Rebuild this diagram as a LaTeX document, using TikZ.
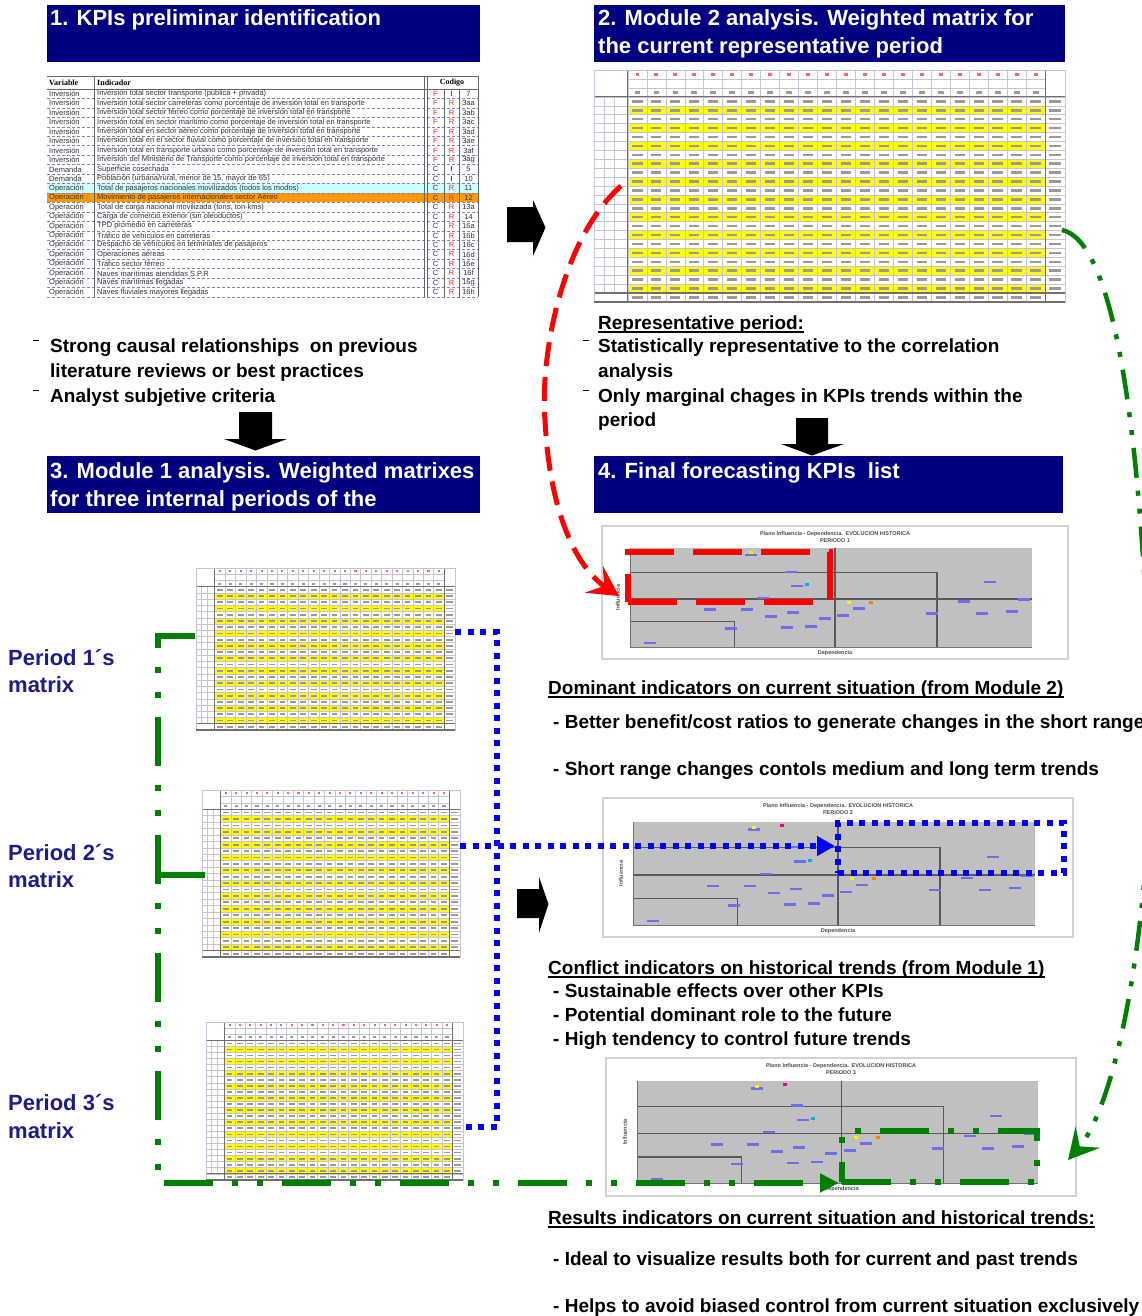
\documentclass[tikz,border=0pt]{standalone}
\usepackage{fontspec}
\setmainfont{Liberation Sans}
\newfontfamily\serifhead{Liberation Serif}
\usetikzlibrary{arrows.meta,fit}
\definecolor{navyc}{HTML}{000080}
\definecolor{perblue}{HTML}{1C1C8C}
\definecolor{cellyellow}{HTML}{FFFF00}
\definecolor{gridc}{HTML}{C4C4D4}
\definecolor{tborder}{HTML}{707070}
\definecolor{cellink}{HTML}{9A9A9A}
\definecolor{plotgray}{HTML}{C0C0C0}
\definecolor{framegray}{HTML}{D2D2D2}
\definecolor{lineg}{HTML}{008000}
\definecolor{liner}{HTML}{FF0000}
\definecolor{lineb}{HTML}{0000FF}
\definecolor{kcyan}{HTML}{CCFFFF}
\definecolor{korange}{HTML}{FF9900}
\definecolor{kred}{HTML}{FF2020}
\definecolor{kblue}{HTML}{2828C8}
\definecolor{kline}{HTML}{8080C8}
\definecolor{ptblue}{HTML}{3030E0}
\newcommand\fsz[1]{\fontsize{#1}{#1}\selectfont}

% weighted matrix screenshot: name, x0, y0, x1, y1
\newcommand\mtable[5]{%
  \node[fit={(#2,#3) (#4,#5)}, inner sep=0pt, outer sep=0pt, fill=white] (#1) {};
  \pgfmathsetmacro\mtW{#4-#2}%
  \pgfmathsetmacro\mtH{#5-#3}%
  \pgfmathsetmacro\mtxa{#2+0.072*\mtW}%
  \pgfmathsetmacro\mtxb{#4-0.042*\mtW}%
  \pgfmathsetmacro\mtya{#3+0.116*\mtH}%
  \pgfmathsetmacro\mtyb{#5-0.039*\mtH}%
  \pgfmathsetmacro\mtrh{(\mtyb-\mtya)/22}%
  \pgfmathsetmacro\mtcw{(\mtxb-\mtxa)/22}%
  \pgfmathsetmacro\mtdon{0.55*\mtcw}%
  \pgfmathsetmacro\mtdoff{0.45*\mtcw}%
  \pgfmathsetmacro\mtph{0.78*\mtcw}%
  \pgfmathsetmacro\mtlw{0.28*\mtrh}%
  \pgfmathsetmacro\mthon{0.2*\mtcw}%
  \pgfmathsetmacro\mthoff{0.8*\mtcw}%
  \pgfmathsetmacro\mthph{0.6*\mtcw}%
  \pgfmathsetmacro\mtkon{0.3*\mtcw}%
  \pgfmathsetmacro\mtkoff{0.7*\mtcw}%
  \pgfmathsetmacro\mtkph{0.65*\mtcw}%
  \foreach \r in {1,3,...,21}
    \fill[cellyellow] (\mtxa,{\mtya+\r*\mtrh}) rectangle (\mtxb,{\mtya+(\r+1)*\mtrh});
  \foreach \r in {0,...,21}{
    \draw[cellink, line width=\mtlw pt, dash pattern=on \mtdon pt off \mtdoff pt, dash phase=\mtph pt]
      (\mtxa,{\mtya+(\r+0.5)*\mtrh}) -- (\mtxb,{\mtya+(\r+0.5)*\mtrh});
    \draw[cellink, line width=\mtlw pt] ({\mtxb+0.2*(#4-\mtxb)},{\mtya+(\r+0.5)*\mtrh}) -- ({#4-0.2*(#4-\mtxb)},{\mtya+(\r+0.5)*\mtrh});
  }
  \draw[cellink, line width=\mtlw pt, dash pattern=on \mtdon pt off \mtdoff pt, dash phase=\mtph pt]
      (\mtxa,{(\mtyb+#5)/2}) -- (\mtxb,{(\mtyb+#5)/2});
  \draw[kred!70, line width=\mtlw pt, dash pattern=on \mthon pt off \mthoff pt, dash phase=\mthph pt]
      (\mtxa,{#3+(\mtya-#3)/6}) -- (\mtxb,{#3+(\mtya-#3)/6});
  \draw[cellink, line width=\mtlw pt, dash pattern=on \mtkon pt off \mtkoff pt, dash phase=\mtkph pt]
      (\mtxa,{#3+5*(\mtya-#3)/6}) -- (\mtxb,{#3+5*(\mtya-#3)/6});
  \foreach \r in {0,...,22}
    \draw[gridc, line width=0.6pt] (#2,{\mtya+\r*\mtrh}) -- (#4,{\mtya+\r*\mtrh});
  \foreach \k in {1,2}
    \draw[gridc, line width=0.6pt] (\mtxa,{#3+\k*(\mtya-#3)/3}) -- (\mtxb,{#3+\k*(\mtya-#3)/3});
  \foreach \c in {0,...,22}
    \draw[gridc, line width=0.6pt] ({\mtxa+\c*\mtcw},#3) -- ({\mtxa+\c*\mtcw},#5);
  \foreach \k in {1,2}
    \draw[gridc, line width=0.6pt] ({#2+\k*(\mtxa-#2)/3.4},\mtya) -- ({#2+\k*(\mtxa-#2)/3.4},\mtyb);
  \draw[tborder, line width=1.1pt] (#2,\mtya) -- (#4,\mtya) (#2,\mtyb) -- (#4,\mtyb)
      (\mtxa,#3) -- (\mtxa,#5) (\mtxb,#3) -- (\mtxb,#5);
  \draw[gridc, line width=0.8pt] (#2,#3) rectangle (#4,#5);
  \draw[tborder, line width=1.4pt] (#2,#5) -- (#4,#5);
}

% chart screenshot: period, frame x0 y0 x1 y1, plot x0 y0 x1 y1
\newcommand\mchart[9]{%
  \node[fit={(#2,#3) (#4,#5)}, inner sep=0pt, outer sep=0pt, draw=framegray, line width=1.8pt, fill=white] (chart#1) {};
  \fill[plotgray] (#6,#7) rectangle (#8,#9);
  \pgfmathsetmacro\mcW{#8-#6}%
  \pgfmathsetmacro\mcH{#9-#7}%
  \draw[black!65, line width=1.5pt] ({#6+0.51*\mcW},#7) -- ({#6+0.51*\mcW},#9);
  \draw[black!65, line width=1.2pt] (#6,{#7+0.515*\mcH}) -- (#8,{#7+0.515*\mcH});
  \draw[black!65, line width=1.3pt] (#6,{#7+0.25*\mcH}) -- ({#6+0.764*\mcW},{#7+0.25*\mcH}) -- ({#6+0.764*\mcW},#9);
  \draw[black!65, line width=1.3pt] (#6,{#7+0.745*\mcH}) -- ({#6+0.26*\mcW},{#7+0.745*\mcH}) -- ({#6+0.26*\mcW},#9);
  \draw[black!55, line width=0.8pt] (#6,#7) -- (#6,#9) -- (#8,#9);
  \foreach \mx/\my in {0.30/0.07,0.40/0.24,0.415/0.38,0.33/0.50,0.20/0.62,0.29/0.62,0.35/0.69,0.405/0.65,0.39/0.80,0.45/0.79,0.485/0.71,0.25/0.81,0.05/0.96,0.53/0.68,0.57/0.61,0.75/0.66,0.83/0.54,0.875/0.66,0.895/0.34,0.98/0.52,0.95/0.64}
    \fill[ptblue!70] ({#6+\mx*\mcW-6},{#7+\my*\mcH-1}) rectangle ++(12,2.4);
  \foreach \mx/\my/\mc in {0.37/0.03/magenta,0.30/0.05/yellow,0.545/0.55/yellow,0.44/0.37/cyan,0.60/0.55/orange}
    \fill[\mc] ({#6+\mx*\mcW-2},{#7+\my*\mcH-1.5}) rectangle ++(4,3);
  \node[inner sep=0pt, align=center, text=black!70, font=\fontsize{5.5}{6.5}\selectfont\bfseries] (ctitle#1)
    at ({(#2+#4)/2},{#3+11}) {Plano Influencia - Dependencia.\enspace EVOLUCION HISTORICA\\PERIODO #1};
  \node[inner sep=0pt, text=black!70, font=\fsz{5.5}\bfseries] (cxl#1) at ({#6+0.51*\mcW},{#9+6}) {Dependencia};
  \node[inner sep=0pt, text=black!70, font=\fsz{5.5}\bfseries, rotate=90] (cyl#1) at ({#6-12},{#7+0.5*\mcH}) {Influencia};
}

% KPI table row
\newcommand\kpirow[8]{%
  \pgfmathsetmacro\kyc{89+(#1-0.5)*9.45}%
  \node[kpitxt] (kv#1) at (49,\kyc) {#2};
  \node[kpitxt] (ki#1) at (97,\kyc) {#3};
  \node[kpic, text=#5] (kf#1) at (435.5,\kyc) {#4};
  \node[kpic, text=#7] (kr#1) at (451.5,\kyc) {#6};
  \node[kpic] (kc#1) at (468.5,\kyc) {#8};
}

\begin{document}
\begin{tikzpicture}[x=1pt,y=-1pt,
  titlebox/.style={fill=navyc, draw=none, inner sep=0pt, outer sep=0pt},
  ttl/.style={anchor=base west, inner sep=0pt, text=white, font=\fsz{22}\bfseries},
  body/.style={anchor=base west, inner sep=0pt, font=\fsz{19}\bfseries},
  perl/.style={anchor=base west, inner sep=0pt, text=perblue, font=\fsz{22}\bfseries},
  kpitxt/.style={anchor=west, inner sep=0pt, text=black!80, font=\fsz{7.5}},
  kpic/.style={anchor=center, inner sep=0pt, text=black!80, font=\fsz{7.5}},
  kpihead/.style={inner sep=0pt, font=\fsz{8}\serifhead\bfseries},
  gdash/.style={lineg, line width=6pt, dash pattern=on 49pt off 19pt on 6pt off 19pt on 6pt off 19pt},
  gcurve/.style={lineg, line width=4.5pt, dash pattern=on 30pt off 13pt on 5pt off 13pt on 5pt off 13pt},
  rdash/.style={liner, line width=5pt, dash pattern=on 24pt off 11pt},
  rbox/.style={liner, line width=6pt, dash pattern=on 49pt off 19pt},
  bdot/.style={lineb, line width=6pt, dash pattern=on 6pt off 6.5pt},
  blockarrow/.style={fill=black},
  uline/.style={line width=1.5pt},
  dashmark/.style={line width=1pt}
]
\useasboundingbox (0,0) rectangle (1142,1316);
\fill[white] (0,0) rectangle (1142,1316);

% ---------- title boxes ----------
\node[titlebox, fit={(47,5) (480,62)}] (b1) {};
\node[ttl] (t1) at (50,26) {1. KPIs preliminar identification};
\node[titlebox, fit={(594,5) (1065,62)}] (b2) {};
\node[ttl] (t2a) at (598,26) {2. Module 2 analysis. Weighted matrix for};
\node[ttl] (t2b) at (598,54) {the current representative period};
\node[titlebox, fit={(47,456) (480,513)}] (b3) {};
\node[ttl] (t3a) at (50,478) {3. Module 1 analysis. Weighted matrixes};
\node[ttl] (t3b) at (50,506) {for three internal periods of the};
\node[titlebox, fit={(594,456) (1063,513)}] (b4) {};
\node[ttl] (t4) at (598,478) {4. Final forecasting KPIs\ \ list};

% ---------- KPI table ----------
\fill[kcyan] (47,{89+10*9.45}) rectangle (478,{89+11*9.45});
\fill[korange] (47,{89+11*9.45}) rectangle (478,{89+12*9.45});
\foreach \i in {1,...,22}
  \draw[kline, line width=0.5pt, densely dashed] (47,{89+\i*9.45}) -- (478,{89+\i*9.45});
\draw[black!60, line width=0.8pt] (47,76) -- (478,76) (47,89) -- (478,89);
\draw[black!60, line width=0.7pt] (94,76) -- (94,297) (424,76) -- (424,297) (427,76) -- (427,297)
  (444,89) -- (444,297) (459,89) -- (459,297) (478,76) -- (478,297);
\node[kpihead, anchor=west] (kh1) at (49,82.5) {Variable};
\node[kpihead, anchor=west] (kh2) at (97,82.5) {Indicador};
\node[kpihead] (kh3) at (452,82.5) {Codigo};
\kpirow{1}{Inversión}{Inversión total sector transporte (pública + privada)}{F}{kred}{I}{black}{7}
\kpirow{2}{Inversión}{Inversión total sector carreteras como porcentaje de inversión total en transporte}{F}{kred}{R}{kred}{3aa}
\kpirow{3}{Inversión}{Inversión total sector férreo como porcentaje de inversión total en transporte}{F}{kred}{R}{kred}{3ab}
\kpirow{4}{Inversión}{Inversión total en sector marítimo como porcentaje de inversión total en transporte}{F}{kred}{R}{kred}{3ac}
\kpirow{5}{Inversión}{Inversión total en sector aéreo como porcentaje de inversión total en transporte}{F}{kred}{R}{kred}{3ad}
\kpirow{6}{Inversión}{Inversión total en el sector fluvial como porcentaje de inversión total en transporte}{F}{kred}{R}{kred}{3ae}
\kpirow{7}{Inversión}{Inversión total en transporte urbano como porcentaje de inversión total en transporte}{F}{kred}{R}{kred}{3af}
\kpirow{8}{Inversión}{Inversión del Ministerio de Transporte como porcentaje de inversión total en transporte}{F}{kred}{R}{kred}{3ag}
\kpirow{9}{Demanda}{Superficie cosechada}{C}{kblue}{I}{black}{5}
\kpirow{10}{Demanda}{Población (urbana/rural, menor de 15, mayor de 65)}{C}{kblue}{I}{black}{10}
\kpirow{11}{Operación}{Total de pasajeros nacionales movilizados (todos los modos)}{C}{kblue}{R}{kred}{11}
\kpirow{12}{Operación}{Movimiento de pasajeros internacionales sector Aéreo}{C}{kblue}{R}{kred}{12}
\kpirow{13}{Operación}{Total de carga nacional movilizada (tons, ton-kms)}{C}{kblue}{R}{kred}{13a}
\kpirow{14}{Operación}{Carga de comercio exterior (sin oleoductos)}{C}{kblue}{R}{kred}{14}
\kpirow{15}{Operación}{TPD promedio en carreteras}{C}{kblue}{R}{kred}{16a}
\kpirow{16}{Operación}{Tráfico de vehículos en carreteras}{C}{kblue}{R}{kred}{16b}
\kpirow{17}{Operación}{Despacho de vehículos en terminales de pasajeros}{C}{kblue}{R}{kred}{16c}
\kpirow{18}{Operación}{Operaciones aéreas}{C}{kblue}{R}{kred}{16d}
\kpirow{19}{Operación}{Tráfico sector férreo}{C}{kblue}{R}{kred}{16e}
\kpirow{20}{Operación}{Naves marítimas atendidas S.P.R}{C}{kblue}{R}{kred}{16f}
\kpirow{21}{Operación}{Naves marítimas llegadas}{C}{kblue}{R}{kred}{16g}
\kpirow{22}{Operación}{Naves fluviales mayores llegadas}{C}{kblue}{R}{kred}{16h}

% ---------- matrices ----------
\mtable{m2}{594}{70}{1065}{302}
\mtable{p1}{196}{568}{455}{730}
\mtable{p2}{202}{790}{460}{957}
\mtable{p3}{206}{1022}{463}{1180}

% ---------- charts ----------
\mchart{1}{602}{526}{1068}{659}{630}{548}{1032}{647}
\mchart{2}{603}{798}{1073}{937}{633}{822}{1035}{925}
\mchart{3}{606}{1058}{1076}{1196}{637}{1081}{1038}{1183}

% ---------- block arrows ----------
\fill[blockarrow] (239,412) -- (272,412) -- (272,439) -- (287,439) -- (255.5,450.5) -- (224,439) -- (239,439) -- cycle;
\fill[blockarrow] (796,418) -- (828,418) -- (828,444) -- (844,444) -- (812,455.5) -- (781,444) -- (796,444) -- cycle;
\fill[blockarrow] (507,207) -- (533,207) -- (533,200) -- (545.5,227.5) -- (533,256) -- (533,242) -- (507,242) -- cycle;
\fill[blockarrow] (517,889) -- (539,889) -- (539,877) -- (548.5,904) -- (539,933) -- (539,918) -- (517,918) -- cycle;

% ---------- left texts ----------
\draw[dashmark] (33,340) -- (39,340);
\node[body] (l1) at (50,352) {Strong causal relationships\ \ on previous};
\node[body] (l2) at (50,377) {literature reviews or best practices};
\draw[dashmark] (33,390) -- (39,390);
\node[body] (l3) at (50,402) {Analyst subjetive criteria};

% ---------- representative period ----------
\node[body] (r0) at (598,329) {Representative period:};
\draw[uline] ([yshift=-3pt]r0.base west) -- ([yshift=-3pt]r0.base east);
\draw[dashmark] (583,340) -- (589,340);
\node[body] (r1) at (598,352) {Statistically representative to the correlation};
\node[body] (r2) at (598,377) {analysis};
\draw[dashmark] (583,390) -- (589,390);
\node[body] (r3) at (598,402) {Only marginal chages in KPIs trends within the};
\node[body] (r4) at (598,426) {period};

% ---------- period labels ----------
\node[perl] (pl1a) at (8,665) {Period 1´s};
\node[perl] (pl1b) at (8,692) {matrix};
\node[perl] (pl2a) at (8,860) {Period 2´s};
\node[perl] (pl2b) at (8,887) {matrix};
\node[perl] (pl3a) at (8,1110) {Period 3´s};
\node[perl] (pl3b) at (8,1138) {matrix};

% ---------- right texts ----------
\node[body] (d0) at (548,694) {Dominant indicators on current situation (from Module 2)};
\draw[uline] ([yshift=-3pt]d0.base west) -- ([yshift=-3pt]d0.base east);
\node[body] (d1) at (553,728) {- Better benefit/cost ratios to generate changes in the short range};
\node[body] (d2) at (553,775) {- Short range changes contols medium and long term trends};
\node[body] (c0) at (548,974) {Conflict indicators on historical trends (from Module 1)};
\draw[uline] ([yshift=-3pt]c0.base west) -- ([yshift=-3pt]c0.base east);
\node[body] (c1) at (553,997) {- Sustainable effects over other KPIs};
\node[body] (c2) at (553,1021) {- Potential dominant role to the future};
\node[body] (c3) at (553,1045) {- High tendency to control future trends};
\node[body] (e0) at (548,1224) {Results indicators on current situation and historical trends:};
\draw[uline] ([yshift=-3pt]e0.base west) -- ([yshift=-3pt]e0.base east);
\node[body] (e1) at (553,1265) {- Ideal to visualize results both for current and past trends};
\node[body] (e2) at (553,1312) {- Helps to avoid biased control from current situation exclusively};

% ---------- highlight boxes ----------
\node[fit={(628,552) (830,602)}, inner sep=0pt, draw, rbox] (rr) {};
\node[fit={(838,823) (1064,873)}, inner sep=0pt, draw, bdot] (br) {};
\node[fit={(842,1131) (1037,1182)}, inner sep=0pt, draw, gdash] (gr) {};

% ---------- connectors ----------
\coordinate (gp1) at (195,636);
\coordinate (gc1) at (158,636);
\coordinate (gc2) at (158,1183);
\coordinate (gp2) at (205,875);
\coordinate (gc3) at (158,875);
\draw[gdash] (gp2) -- (gc3);
\draw[gdash, -{Triangle[length=19pt,width=18pt]}] (gp1) -- (gc1) -- (gc2) -- (gc2 -| gr.west);

\coordinate (bp1) at (455,632);
\coordinate (bv1) at (497,632);
\coordinate (bv2) at (497,1127);
\coordinate (bp3) at (465,1127);
\draw[bdot] (bp1) -- (bv1) -- (bv2) -- (bp3);
\coordinate (bs) at (460,846);
\draw[bdot, -{Triangle[length=18pt,width=19pt]}] (bs) -- (bs -| br.west);

\coordinate (rs) at (621,186);
\coordinate (rm) at (545,420);
\coordinate (rtip) at (619,596);
\draw[rdash, -{Stealth[length=30pt,width=32pt,inset=12pt]}] (rs) .. controls (560,240) and (540,360) .. (rm) .. controls (550,520) and (580,570) .. (rtip);

\coordinate (gs) at (1062,230);
\coordinate (gm) at (1150,700);
\coordinate (gtip) at (1068,1160);
\draw[gcurve, -{Stealth[length=30pt,width=32pt,inset=12pt]}] (gs) .. controls (1110,240) and (1140,400) .. (gm) .. controls (1155,900) and (1120,1100) .. (gtip);

\end{tikzpicture}
\end{document}
